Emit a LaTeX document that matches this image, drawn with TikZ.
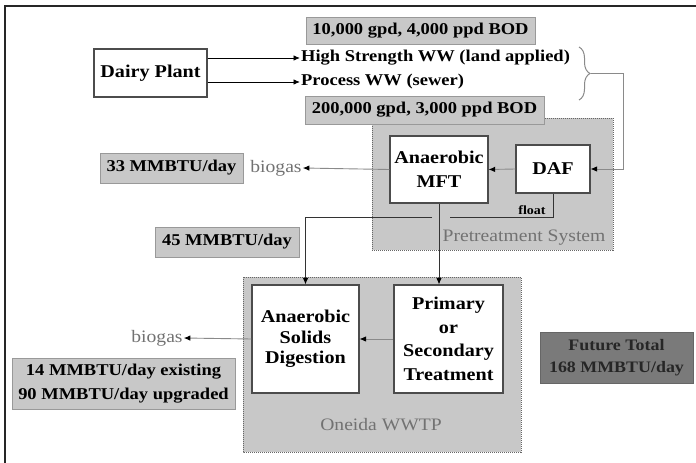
\documentclass[tikz,border=0pt]{standalone}
\usepackage{fontspec}
\setmainfont{Liberation Serif}[FakeStretch=1.12]
\usetikzlibrary{arrows.meta,decorations.pathreplacing,calc}
\definecolor{labgray}{HTML}{C8C8C8}
\definecolor{arrgray}{HTML}{8A8A8A}
\definecolor{txtgray}{HTML}{727272}
\definecolor{futgray}{HTML}{7A7A7A}
\newcommand\bxfont{\bfseries\fontsize{18}{23.5}\selectfont}
\newcommand\lbfont{\bfseries\fontsize{16.5}{24}\selectfont}
\begin{document}
\begin{tikzpicture}[x=1pt,y=-1pt,
  blk/.style={draw=black!70, line width=1.1pt, fill=white, font=\bxfont, align=center, inner sep=0pt},
  lab/.style={draw=black!40, line width=0.7pt, fill=labgray, font=\lbfont, align=center, inner sep=0pt},
  region/.style={fill=labgray, draw=black!60, dash pattern=on 1pt off 1pt, line width=1pt},
  tip/.style={-{Latex[length=6.5pt,width=5.5pt,color=black]}},
  garrow/.style={draw=arrgray, line width=0.9pt, tip},
  barrow/.style={draw=black!80, line width=0.9pt, tip},
  gtext/.style={text=txtgray, font=\fontsize{17.5}{20}\selectfont, inner sep=1pt},
  ttext/.style={font=\lbfont, inner sep=1pt, anchor=west}]
\useasboundingbox (0,0) rectangle (696,463);
% frame
\draw[black!85, line width=2pt] (5,463) -- (5,6) -- (696,6);
% regions
\path[region] (372,118) rectangle (613,250);
\path[region] (243,277) rectangle (521,452);
% nodes
\node[blk, minimum width=113pt, minimum height=48pt] (dairy) at (150.5,73) {Dairy Plant};
\node[ttext] (hs) at (300,58) {High Strength WW (land applied)};
\node[ttext] (pw) at (300,82) {Process WW (sewer)};
\node[lab, minimum width=229pt, minimum height=27pt] (l1) at (420.5,30.5) {10,000 gpd, 4,000 ppd BOD};
\node[lab, minimum width=239pt, minimum height=28pt] (l2) at (424.5,110) {200,000 gpd, 3,000 ppd BOD};
\node[blk, minimum width=98pt, minimum height=67pt] (mft) at (439,169.5) {Anaerobic\\MFT};
\node[blk, minimum width=74pt, minimum height=48pt] (daf) at (553,169) {DAF};
\node[lab, minimum width=143pt, minimum height=30pt] (l33) at (171.5,168) {33 MMBTU/day};
\node[lab, minimum width=144pt, minimum height=30pt] (l45) at (227,242) {45 MMBTU/day};
\node[gtext] (bg1) at (276,168) {biogas};
\node[font=\bfseries\fontsize{12.5}{14}\selectfont, inner sep=0pt] (flt) at (532,210) {float};
\node[gtext] (pts) at (524,238) {Pretreatment System};
\node[blk, minimum width=107pt, minimum height=108pt, font=\bfseries\fontsize{18}{20.5}\selectfont] (asd) at (305.5,339) {Anaerobic\\Solids\\Digestion};
\node[blk, minimum width=109pt, minimum height=108pt] (pri) at (448.5,339) {Primary\\or\\Secondary\\Treatment};
\node[gtext] (bg2) at (157,338) {biogas};
\node[lab, minimum width=223pt, minimum height=51pt] (l14) at (123.5,383.5) {14 MMBTU/day existing\\90 MMBTU/day upgraded};
\node[gtext] (one) at (381,425) {Oneida WWTP};
\node[lab, fill=futgray, text=black!85, draw=black!60, font=\bfseries\fontsize{16}{22}\selectfont, minimum width=153pt, minimum height=51pt] (fut) at (616.5,357.5) {Future Total\\168 MMBTU/day};
% brace
\coordinate (bt) at (591,73.5);
\draw[arrgray, line width=1pt, decorate, decoration={brace, amplitude=11pt}] (579,47) -- (579,100);
\coordinate (c1) at (623,73.5);
% connectors
\draw[barrow, draw=black] (dairy.east |- hs.west) -- (hs.west);
\draw[barrow, draw=black] (dairy.east |- pw.west) -- (pw.west);
\draw[garrow] (bt) -- (c1) |- (daf.east);
\draw[garrow] (daf.west) -- (mft.east);
\draw[garrow] (mft.west) -- (bg1.east);
\coordinate (fa) at (450,217);
\coordinate (fb) at (432,217);
\draw[black!80, line width=0.9pt] (daf.south) |- (fa);
\draw[barrow] (fb) -| (asd.north);
\draw[barrow] (mft.south) -- (mft.south |- pri.north);
\draw[garrow] (pri.west) -- (asd.east);
\draw[garrow] (asd.west) -- (bg2.east);
\end{tikzpicture}
\end{document}
